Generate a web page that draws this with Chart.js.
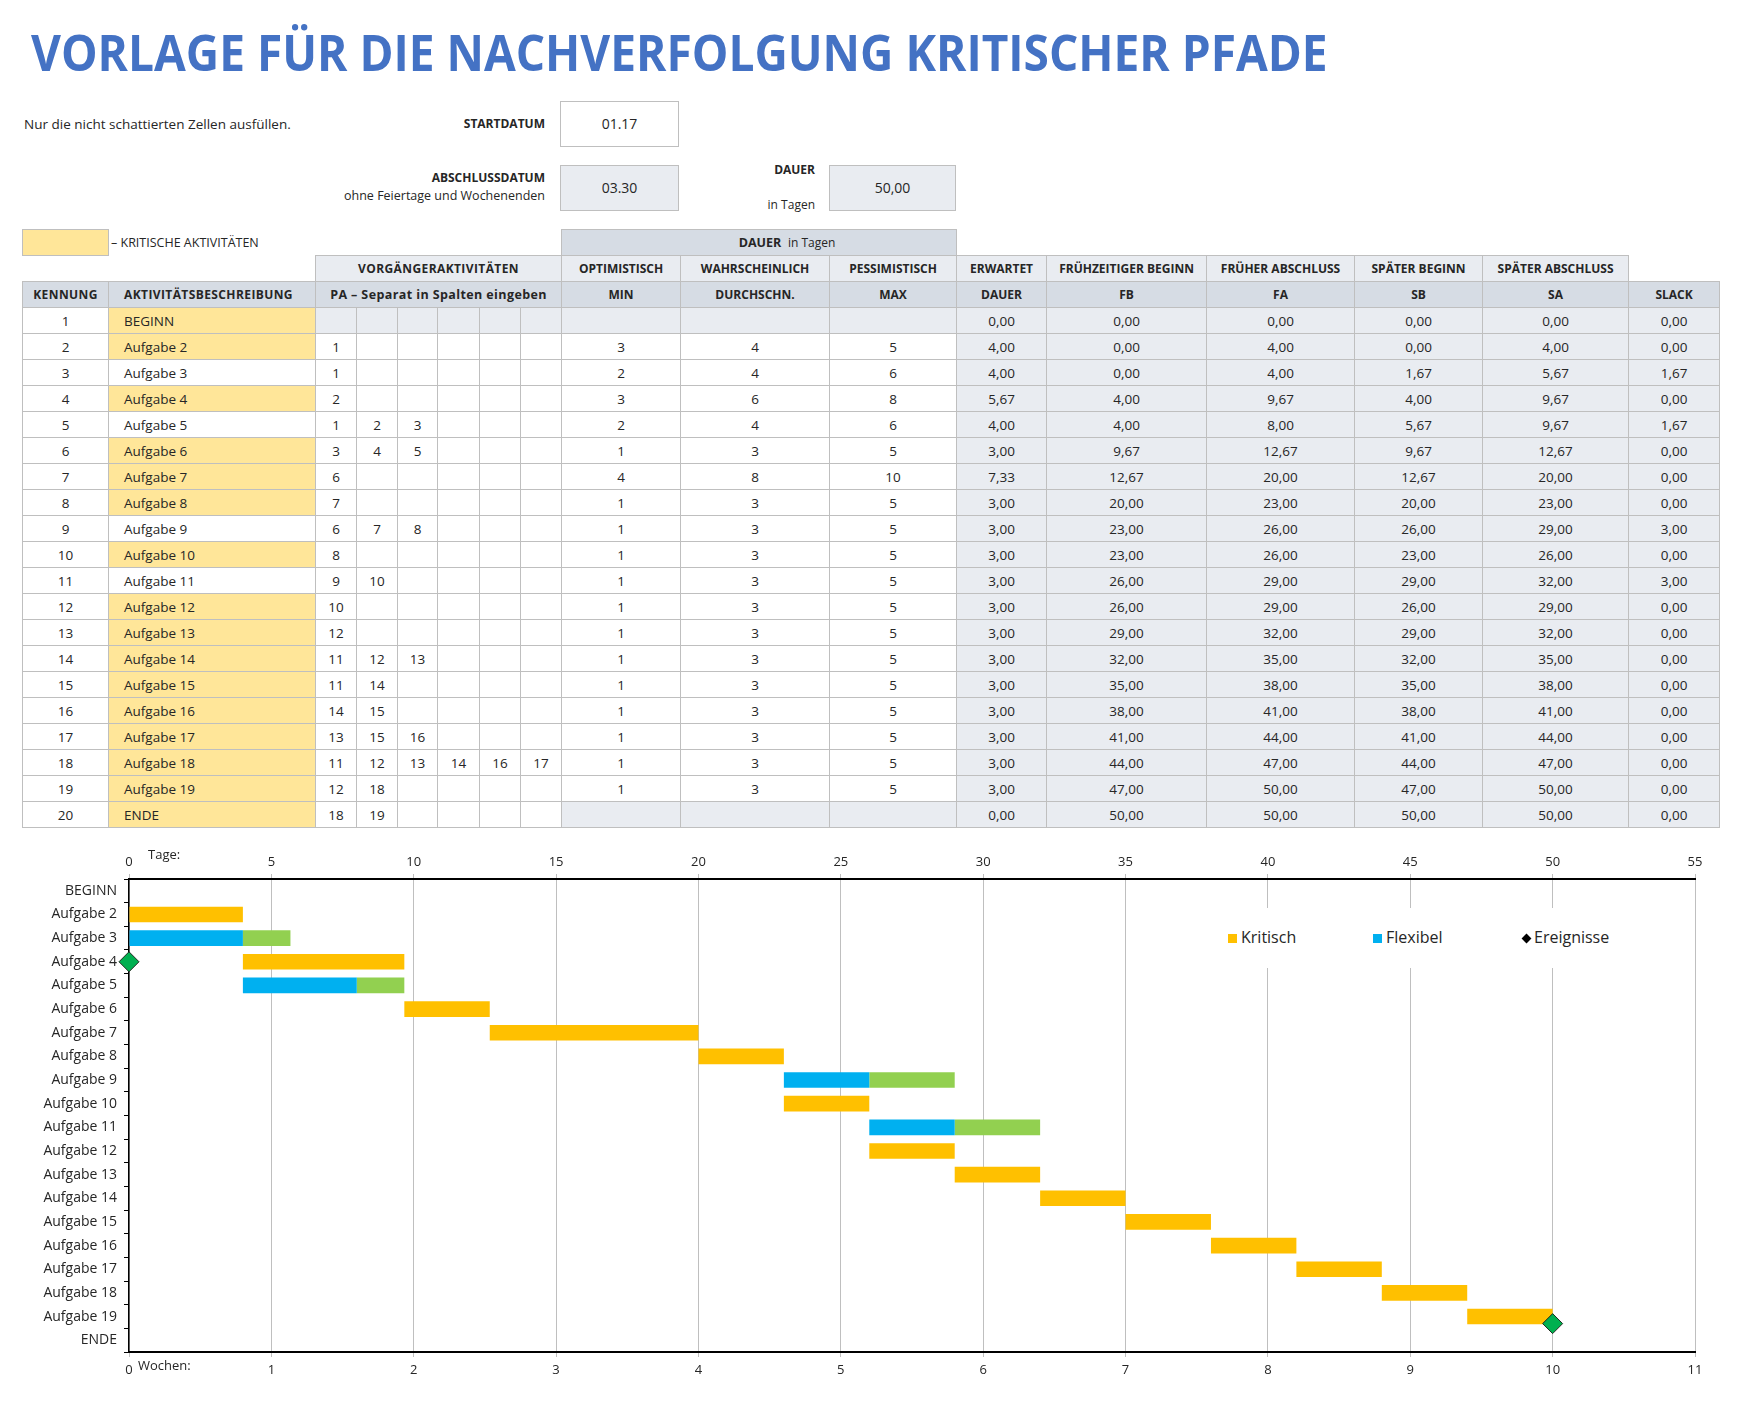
<!DOCTYPE html>
<html lang="de">
<head>
<meta charset="utf-8">
<title>Vorlage für die Nachverfolgung kritischer Pfade</title>
<script src="https://cdn.jsdelivr.net/npm/chart.js@4.4.1/dist/chart.umd.min.js"></script>
<style>
  body { margin: 0; width: 1745px; height: 1407px; background: #fff; position: relative; overflow: hidden;
         font-family: "Open Sans", sans-serif; color: #262626; }
  .abs { position: absolute; white-space: nowrap; }
  #title { left: 31px; top: 26px; font-size: 51px; line-height: 51px; font-weight: 700; color: #4472C4; transform-origin: 0 0; }
  .lbl { font-size: 12px; line-height: 16px; }
  .b { font-weight: 700; }
  .box { position: absolute; border: 1px solid #BFBFBF; box-sizing: border-box; text-align: center; font-size: 14px; }
  .shade { background: #E9ECF1; }
  .dark { background: #D6DCE4; }
  .yel { background: #FFE699; }

  #tbl { position: absolute; left: 22px; top: 229px; width: 1697px; border-collapse: collapse; table-layout: fixed; font-size: 13.5px; }
  #tbl tr { height: 26px; }
  #tbl td { padding: 0; border: 1px solid #BFBFBF; text-align: center; white-space: nowrap; overflow: hidden; }
  #tbl td.nb { border: none; }
  #tbl td.left { text-align: left; padding-left: 15px; }
  #tbl .hd { font-weight: 700; font-size: 12px; }
  #tbl .wide { letter-spacing: 0.4px; }

  #chartBox { position: absolute; left: 0; top: 830px; width: 1745px; height: 577px; }
  #legend { left: 1212px; top: 908px; width: 408px; height: 60px; background: #fff; font-size: 16px; }
  .sw { position: absolute; width: 9px; height: 9px; top: 26px; }
  .lt { position: absolute; top: 18px; line-height: 22px; }
</style>
</head>
<body>

<div id="title" class="abs">VORLAGE FÜR DIE NACHVERFOLGUNG KRITISCHER PFADE</div>

<div class="abs lbl" style="left:24px; top:116px; font-size:13.5px;">Nur die nicht schattierten Zellen ausfüllen.</div>
<div class="abs lbl b" style="right:1200px; top:116px;">STARTDATUM</div>
<div class="box" style="left:560px; top:101px; width:119px; height:46px; line-height:44px;">01.17</div>

<div class="abs lbl b" style="right:1200px; top:170px;">ABSCHLUSSDATUM</div>
<div class="abs lbl" style="right:1200px; top:188px; font-size:12.5px;">ohne Feiertage und Wochenenden</div>
<div class="box shade" style="left:560px; top:165px; width:119px; height:46px; line-height:44px;">03.30</div>

<div class="abs lbl b" style="right:930px; top:162px;">DAUER</div>
<div class="abs lbl" style="right:930px; top:197px; font-size:12px;">in Tagen</div>
<div class="box shade" style="left:829px; top:165px; width:127px; height:46px; line-height:44px;">50,00</div>

<table id="tbl">
  <colgroup>
    <col style="width:86px"><col style="width:207px">
    <col style="width:41px"><col style="width:41px"><col style="width:40px"><col style="width:42px"><col style="width:41px"><col style="width:41px">
    <col style="width:119px"><col style="width:149px"><col style="width:127px">
    <col style="width:90px"><col style="width:160px"><col style="width:148px"><col style="width:128px"><col style="width:146px"><col style="width:91px">
  </colgroup>
  <tbody id="tbody">
    <tr>
      <td class="yel"></td>
      <td class="nb" style="text-align:left; padding-left:2px; font-size:12.5px;">– KRITISCHE AKTIVITÄTEN</td>
      <td class="nb" colspan="6"></td>
      <td class="dark" colspan="3" style="padding-bottom:2px; padding-left:56px;"><span class="b" style="font-size:12.5px">DAUER</span> <span style="font-size:12px">&nbsp;in Tagen</span></td>
      <td class="nb" colspan="6"></td>
    </tr>
    <tr class="hd shade">
      <td class="nb" style="background:#fff"></td>
      <td class="nb" style="background:#fff"></td>
      <td colspan="6" class="wide">VORGÄNGERAKTIVITÄTEN</td>
      <td>OPTIMISTISCH</td><td>WAHRSCHEINLICH</td><td>PESSIMISTISCH</td>
      <td>ERWARTET</td><td>FRÜHZEITIGER BEGINN</td><td>FRÜHER ABSCHLUSS</td><td>SPÄTER BEGINN</td><td>SPÄTER ABSCHLUSS</td>
      <td class="nb" style="background:#fff"></td>
    </tr>
    <tr class="hd dark">
      <td class="wide">KENNUNG</td>
      <td class="left wide">AKTIVITÄTSBESCHREIBUNG</td>
      <td colspan="6" class="wide" style="font-size:12.5px;">PA – Separat in Spalten eingeben</td>
      <td>MIN</td><td>DURCHSCHN.</td><td>MAX</td>
      <td>DAUER</td><td>FB</td><td>FA</td><td>SB</td><td>SA</td><td>SLACK</td>
    </tr>
  </tbody>
</table>

<div id="chartBox"><canvas id="gantt" width="1745" height="577"></canvas></div>
<div class="abs" style="left:148px; top:845px; font-size:13px; line-height:18px;">Tage:</div>
<div class="abs" style="left:138px; top:1356px; font-size:13px; line-height:18px;">Wochen:</div>

<div id="legend" class="abs">
  <div class="sw" style="left:16px; background:#FFC000;"></div><div class="lt" style="left:29px;">Kritisch</div>
  <div class="sw" style="left:161px; background:#00B0F0;"></div><div class="lt" style="left:174px;">Flexibel</div>
  <div class="sw" style="left:311px; width:7px; height:7px; top:27px; background:#000; transform:rotate(45deg);"></div><div class="lt" style="left:322px;">Ereignisse</div>
</div>

<script>
const ids = [1, 2, 3, 4, 5, 6, 7, 8, 9, 10, 11, 12, 13, 14, 15, 16, 17, 18, 19, 20];
const names = ['BEGINN', 'Aufgabe 2', 'Aufgabe 3', 'Aufgabe 4', 'Aufgabe 5', 'Aufgabe 6', 'Aufgabe 7', 'Aufgabe 8', 'Aufgabe 9', 'Aufgabe 10',
  'Aufgabe 11', 'Aufgabe 12', 'Aufgabe 13', 'Aufgabe 14', 'Aufgabe 15', 'Aufgabe 16', 'Aufgabe 17', 'Aufgabe 18', 'Aufgabe 19', 'ENDE'];
const preds = [[], [1], [1], [2], [1, 2, 3], [3, 4, 5], [6], [7], [6, 7, 8], [8],
  [9, 10], [10], [12], [11, 12, 13], [11, 14], [14, 15], [13, 15, 16], [11, 12, 13, 14, 16, 17], [12, 18], [18, 19]];
const optMin = [null, 3, 2, 3, 2, 1, 4, 1, 1, 1, 1, 1, 1, 1, 1, 1, 1, 1, 1, null];
const likely = [null, 4, 4, 6, 4, 3, 8, 3, 3, 3, 3, 3, 3, 3, 3, 3, 3, 3, 3, null];
const pessMax = [null, 5, 6, 8, 6, 5, 10, 5, 5, 5, 5, 5, 5, 5, 5, 5, 5, 5, 5, null];
const expected = [0, 4, 4, 5.67, 4, 3, 7.33, 3, 3, 3, 3, 3, 3, 3, 3, 3, 3, 3, 3, 0];
const earlyStart = [0, 0, 0, 4, 4, 9.67, 12.67, 20, 23, 23, 26, 26, 29, 32, 35, 38, 41, 44, 47, 50];
const earlyFinish = [0, 4, 4, 9.67, 8, 12.67, 20, 23, 26, 26, 29, 29, 32, 35, 38, 41, 44, 47, 50, 50];
const lateStart = [0, 0, 1.67, 4, 5.67, 9.67, 12.67, 20, 26, 23, 29, 26, 29, 32, 35, 38, 41, 44, 47, 50];
const lateFinish = [0, 4, 5.67, 9.67, 9.67, 12.67, 20, 23, 29, 26, 32, 29, 32, 35, 38, 41, 44, 47, 50, 50];
const slack = [0, 0, 1.67, 0, 1.67, 0, 0, 0, 3, 0, 3, 0, 0, 0, 0, 0, 0, 0, 0, 0];

// events (diamonds): day and row position (row index, may sit between rows) as in the template
const eventDays = [0, 50];
const eventRows = [3, 18.3];

const dayTicks = [0, 5, 10, 15, 20, 25, 30, 35, 40, 45, 50, 55];
const weekTicks = [0, 1, 2, 3, 4, 5, 6, 7, 8, 9, 10, 11];

const fmt = v => v.toFixed(2).replace('.', ',');

// fit the title to its width in the template
const title = document.getElementById('title');
title.style.transform = 'scaleX(' + (1297 / title.offsetWidth) + ')';

// table rows
const tbody = document.getElementById('tbody');
ids.forEach((id, i) => {
  const tr = document.createElement('tr');
  const cell = (txt, cls) => {
    const td = document.createElement('td');
    td.textContent = txt;
    if (cls) td.className = cls;
    tr.appendChild(td);
  };
  cell(id);
  cell(names[i], 'left' + (slack[i] === 0 ? ' yel' : ''));
  for (let k = 0; k < 6; k++) {
    cell(preds[i][k] !== undefined ? preds[i][k] : '', i === 0 ? 'shade' : '');
  }
  [optMin, likely, pessMax].forEach(arr => cell(arr[i] === null ? '' : arr[i], arr[i] === null ? 'shade' : ''));
  [expected, earlyStart, earlyFinish, lateStart, lateFinish, slack].forEach(arr => cell(fmt(arr[i]), 'shade'));
  tbody.appendChild(tr);
});

// gantt bars
const critBars = names.map((n, i) => (slack[i] === 0 && expected[i] > 0) ? [earlyStart[i], earlyFinish[i]] : null);
const flexBars = names.map((n, i) => slack[i] > 0 ? [earlyStart[i], earlyFinish[i]] : null);
const slackBars = names.map((n, i) => slack[i] > 0 ? [earlyFinish[i], earlyFinish[i] + slack[i]] : null);
const events = eventDays.map((d, i) => ({ x: d, y: eventRows[i] }));

Chart.defaults.font.family = '"Open Sans", sans-serif';
Chart.defaults.color = '#262626';

const barOpts = { grouped: false, barPercentage: 0.66, categoryPercentage: 1, borderWidth: 0, xAxisID: 'x', yAxisID: 'y' };

new Chart('gantt', {
  type: 'bar',
  data: {
    labels: names,
    datasets: [
      { label: 'Kritisch', data: critBars, backgroundColor: '#FFC000', ...barOpts },
      { label: 'Flexibel', data: flexBars, backgroundColor: '#00B0F0', ...barOpts },
      { label: 'Puffer', data: slackBars, backgroundColor: '#92D050', ...barOpts },
      {
        type: 'scatter', label: 'Ereignisse', data: events, parsing: false, xAxisID: 'x', yAxisID: 'y', order: -1,
        pointStyle: 'rectRot', pointRadius: 10, backgroundColor: '#00B050', borderColor: '#1E2B1E', borderWidth: 1, clip: false
      }
    ]
  },
  options: {
    indexAxis: 'y',
    responsive: false,
    animation: false,
    devicePixelRatio: 1,
    layout: { padding: { left: 0, right: 50, top: 0, bottom: 0 } },
    plugins: { legend: { display: false }, tooltip: { enabled: false } },
    scales: {
      x: {
        type: 'linear', position: 'top', min: 0, max: 55,
        afterBuildTicks: s => { s.ticks = dayTicks.map(v => ({ value: v })); },
        ticks: { font: { size: 13 }, padding: 4, maxRotation: 0 },
        grid: { color: '#BFBFBF', tickLength: 5 },
        border: { color: '#000', width: 2 },
        afterFit: s => { s.height = 49; }
      },
      x2: {
        type: 'linear', position: 'bottom', min: 0, max: 11,
        afterBuildTicks: s => { s.ticks = weekTicks.map(v => ({ value: v })); },
        ticks: { font: { size: 13 }, padding: 5, maxRotation: 0 },
        grid: { drawOnChartArea: false, color: '#BFBFBF', tickLength: 5 },
        border: { color: '#000', width: 2 },
        afterFit: s => { s.height = 55; }
      },
      y: {
        type: 'category', position: 'left', offset: true,
        ticks: { font: { size: 14 }, padding: 7 },
        grid: { offset: true, drawOnChartArea: false, color: '#000', tickLength: 5 },
        border: { color: '#000', width: 1.5 },
        afterFit: s => { s.width = 129; }
      }
    }
  }
});
</script>
</body>
</html>
